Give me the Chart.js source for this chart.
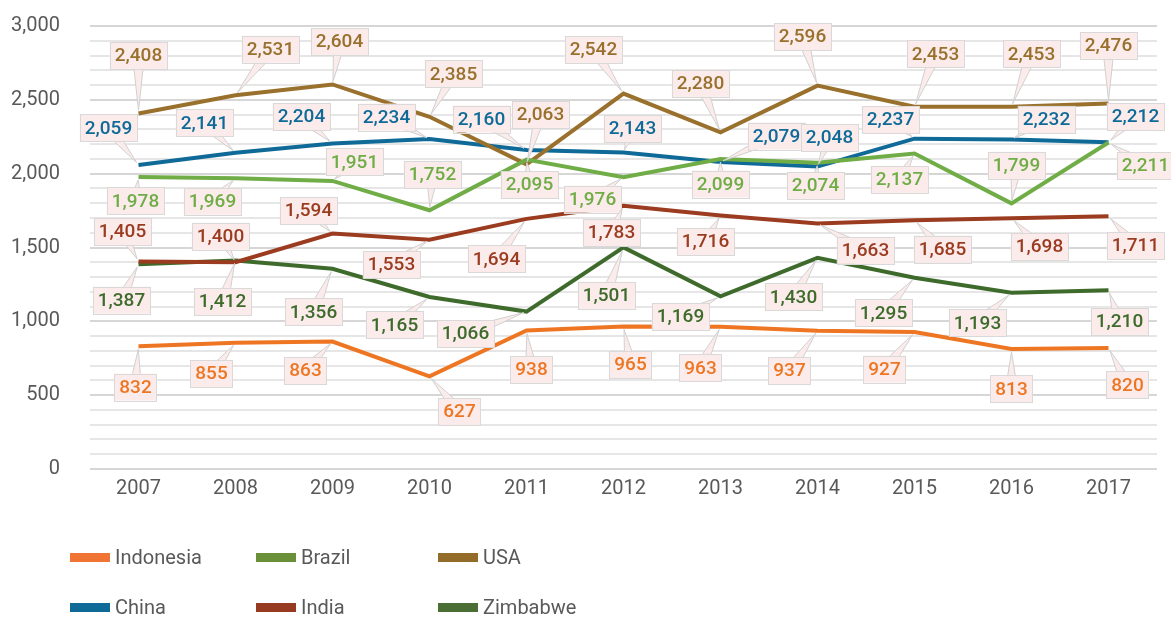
<!DOCTYPE html>
<html>
<head>
<meta charset="utf-8">
<script src="https://cdn.jsdelivr.net/npm/chart.js@4.4.1/dist/chart.umd.min.js"></script>
<style>
    body { margin: 0; background: #fff; }
    #wrap { position: relative; width: 1171px; height: 619px; }
    #legend { position: absolute; left: 0; top: 0; width: 1171px; height: 619px; pointer-events: none;
        font-family: Roboto, sans-serif; font-size: 20px; color: #595959; }
    .lg-item { position: absolute; display: flex; align-items: center; }
    .lg-item span.sw { display: inline-block; width: 40px; height: 9px; margin-right: 5px; }
</style>
</head>
<body>
<div id="wrap">
    <canvas id="chart" width="1171" height="619"></canvas>
    <div id="legend"></div>
</div>
<script>
// Data
const years = ['2007', '2008', '2009', '2010', '2011', '2012', '2013', '2014', '2015', '2016', '2017'];
const seriesNames = ['Indonesia', 'Brazil', 'USA', 'China', 'India', 'Zimbabwe'];
const indonesia = [832, 855, 863, 627, 938, 965, 963, 937, 927, 813, 820];
const brazil = [1978, 1969, 1951, 1752, 2095, 1976, 2099, 2074, 2137, 1799, 2211];
const usa = [2408, 2531, 2604, 2385, 2063, 2542, 2280, 2596, 2453, 2453, 2476];
const china = [2059, 2141, 2204, 2234, 2160, 2143, 2079, 2048, 2237, 2232, 2212];
const india = [1405, 1400, 1594, 1553, 1694, 1783, 1716, 1663, 1685, 1698, 1711];
const zimbabwe = [1387, 1412, 1356, 1165, 1066, 1501, 1169, 1430, 1295, 1193, 1210];

// Styles
const colors = ['#ee7623', '#70ad47', '#99702c', '#0f6a98', '#9b3b20', '#3e6b2c'];
const legendColors = ['#f07534', '#6a913a', '#946c2a', '#0f6a98', '#963a22', '#4a6e34'];

// Callout box offsets (px from point to box centre), per series
const labelOffsets = [
    [[-3, 41], [-24, 31], [-27, 29], [30, 35], [5, 39], [7, 38], [-20, 41], [-28, 40], [-30, 37], [0, 40], [19, 37]],
    [[-3, 24], [-23, 23], [22, -19], [3, -36], [3, 25], [-31, 22], [0, 25], [-2, 23], [-15, 26], [5, -38], [37, 23]],
    [[0, -58], [35, -46], [7, -43], [24, -43], [14, -50], [-30, -44], [-20, -49], [-15, -49], [21, -53], [20, -53], [0, -58]],
    [[-30, -37], [-31, -30], [-31, -27], [-43, -22], [-45, -31], [9, -24], [56, -26], [12, -29], [-24, -19], [35, -20], [27, -26]],
    [[-16, -30], [-15, -26], [-24, -23], [-38, 25], [-30, 40], [-12, 27], [-15, 26], [48, 27], [28, 29], [28, 28], [27, 29]],
    [[-17, 36], [-13, 41], [-19, 43], [-35, 28], [-61, 22], [-17, 48], [-40, 20], [-24, 39], [-31, 35], [-34, 30], [11, 31]]
];

const allSeries = [indonesia, brazil, usa, china, india, zimbabwe];
const fmt = (v) => v.toLocaleString('en-US');

const calloutPlugin = {
    id: 'callouts',
    afterDatasetsDraw(chart) {
        const ctx = chart.ctx;
        ctx.save();
        ctx.font = '500 19px Roboto';
        ctx.textAlign = 'center';
        ctx.textBaseline = 'middle';
        chart.data.datasets.forEach((ds, i) => {
            const meta = chart.getDatasetMeta(i);
            meta.data.forEach((pt, j) => {
                const [dx, dy] = labelOffsets[i][j];
                const cx = pt.x + dx, cy = pt.y + dy;
                const text = fmt(ds.data[j]);
                const w = ctx.measureText(text).width + 10;
                const h = 27;
                // pointer wedge
                const ang = Math.atan2(pt.y - cy, pt.x - cx);
                const dist = Math.hypot(pt.x - cx, pt.y - cy);
                const tipX = cx + Math.cos(ang) * (dist - 3);
                const tipY = cy + Math.sin(ang) * (dist - 3);
                const px = -Math.sin(ang) * 6, py = Math.cos(ang) * 6;
                ctx.beginPath();
                ctx.moveTo(cx + px, cy + py);
                ctx.lineTo(tipX, tipY);
                ctx.lineTo(cx - px, cy - py);
                ctx.closePath();
                ctx.fillStyle = '#fbeceb';
                ctx.fill();
                ctx.strokeStyle = '#d0d0d0';
                ctx.lineWidth = 1;
                ctx.stroke();
                // box
                ctx.fillStyle = '#fbeceb';
                ctx.fillRect(cx - w / 2, cy - h / 2, w, h);
                ctx.strokeStyle = '#d9d9d9';
                ctx.strokeRect(Math.round(cx - w / 2) + 0.5, Math.round(cy - h / 2) + 0.5, Math.round(w), h);
                ctx.fillStyle = colors[i];
                ctx.fillText(text, cx, cy + 1);
            });
        });
        ctx.restore();
    }
};

const ctx = document.getElementById('chart').getContext('2d');
new Chart(ctx, {
    type: 'line',
    data: {
        labels: years,
        datasets: allSeries.map((d, i) => ({
            label: seriesNames[i],
            data: d,
            borderColor: colors[i],
            backgroundColor: colors[i],
            borderWidth: 4,
            pointRadius: 0,
            tension: 0
        }))
    },
    options: {
        responsive: false,
        animation: false,
        layout: { padding: { top: 26, left: 0, right: 14, bottom: 118 } },
        plugins: { legend: { display: false }, tooltip: { enabled: false } },
        scales: {
            x: {
                offset: true,
                grid: { display: false },
                border: { display: false },
                ticks: { color: '#595959', font: { family: 'Roboto', size: 20 }, padding: 0 }
            },
            y: {
                min: 0,
                max: 3000,
                border: { display: false },
                afterFit: (s) => { s.width = 90; s.paddingTop = 12; s.paddingBottom = 12; },
                grid: {
                    drawTicks: false,
                    lineWidth: 2,
                    color: (c) => (c.tick && c.tick.value % 500 === 0) ? '#d6d6d6' : '#e6e6e6'
                },
                ticks: {
                    stepSize: 100,
                    autoSkip: false,
                    color: '#595959',
                    font: { family: 'Roboto', size: 20 },
                    padding: 30,
                    callback: (v) => v % 500 === 0 ? fmt(v) : ''
                }
            }
        }
    },
    plugins: [calloutPlugin]
});

// Legend (3 columns x 2 rows)
const legendEl = document.getElementById('legend');
const colX = [70, 256, 438];
const rowY = [558, 608];
seriesNames.forEach((name, i) => {
    const item = document.createElement('div');
    item.className = 'lg-item';
    item.style.left = colX[i % 3] + 'px';
    item.style.top = (rowY[Math.floor(i / 3)] - 13) + 'px';
    item.innerHTML = `<span class="sw" style="background:${legendColors[i]}"></span><span>${name}</span>`;
    legendEl.appendChild(item);
});
</script>
</body>
</html>
